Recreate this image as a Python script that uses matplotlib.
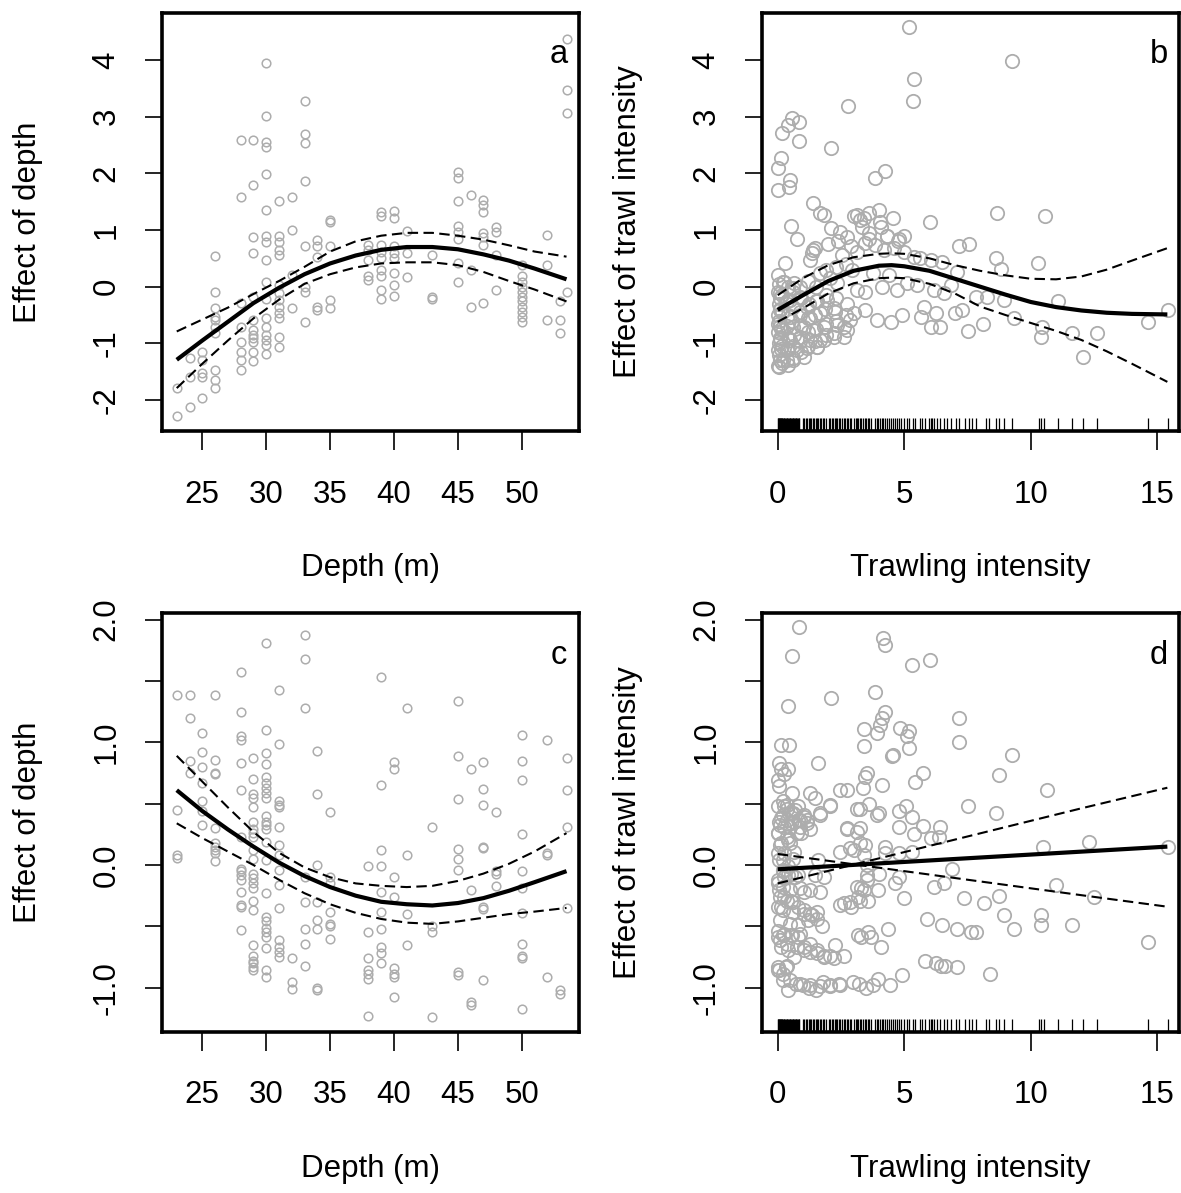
import matplotlib
matplotlib.use("Agg")
import matplotlib.pyplot as plt

# ---------------- data: panel a (depth effect, response 1) ----------------
depth_a_x = [23, 23,
             24, 24, 24,
             25, 25, 25, 25, 25,
             26, 26, 26, 26, 26, 26, 26, 26, 26, 26,
             28, 28, 28, 28, 28, 28, 28, 28,
             29, 29, 29, 29, 29, 29, 29, 29, 29, 29, 29, 29,
             30, 30, 30, 30, 30, 30, 30, 30, 30, 30, 30, 30, 30, 30, 30, 30, 30,
             31, 31, 31, 31, 31, 31, 31, 31, 31, 31, 31, 31, 31,
             32, 32, 32, 32,
             33, 33, 33, 33, 33, 33, 33, 33,
             34, 34, 34, 34, 34,
             35, 35, 35, 35, 35,
             38, 38, 38, 38, 38,
             39, 39, 39, 39, 39, 39, 39, 39, 39,
             40, 40, 40, 40, 40, 40, 40, 40,
             41, 41, 41,
             43, 43, 43,
             45, 45, 45, 45, 45, 45, 45, 45,
             46, 46, 46,
             47, 47, 47, 47, 47, 47, 47,
             48, 48, 48, 48,
             50, 50, 50, 50, 50, 50, 50, 50, 50, 50, 50,
             52, 52, 52,
             53, 53, 53,
             53.5, 53.5, 53.5, 53.5]
effect_a_y = [-1.79, -2.28,
              -1.26, -1.59, -2.12,
              -1.15, -1.29, -1.53, -1.59, -1.97,
              0.55, -0.09, -0.38, -0.53, -0.59, -0.71, -0.82, -1.47, -1.65, -1.79,
              2.59, 1.58, -0.29, -0.71, -0.97, -1.15, -1.29, -1.47,
              2.59, 1.79, 0.88, 0.59, -0.18, -0.59, -0.76, -0.85, -0.91, -0.97, -1.15, -1.32,
              3.95, 3.01, 2.56, 2.47, 1.98, 1.35, 0.89, 0.79, 0.47, 0.09, -0.21, -0.56, -0.71, -0.85, -0.94, -1.03, -1.18,
              1.51, 0.90, 0.78, 0.65, 0.56, 0.03, -0.12, -0.24, -0.35, -0.47, -0.56, -0.88, -1.06,
              1.58, 1.00, 0.21, -0.38,
              3.28, 2.69, 2.53, 1.87, 0.71, 0.00, -0.09, -0.62,
              0.82, 0.71, 0.53, -0.35, -0.41,
              1.18, 1.15, 0.71, -0.24, -0.38,
              0.74, 0.65, 0.47, 0.18, 0.12,
              1.31, 1.25, 0.74, 0.62, 0.50, 0.29, 0.18, -0.06, -0.21,
              1.34, 1.22, 0.71, 0.59, 0.50, 0.24, 0.03, -0.16,
              0.98, 0.59, 0.17,
              0.56, -0.18, -0.21,
              2.03, 1.91, 1.51, 1.07, 0.97, 0.85, 0.41, 0.09,
              1.61, 0.29, -0.35,
              1.53, 1.44, 1.32, 0.94, 0.88, 0.74, -0.29,
              1.06, 0.97, 0.56, -0.05,
              0.38, 0.18, 0.09, 0.00, -0.09, -0.18, -0.26, -0.35, -0.44, -0.53, -0.62,
              0.91, 0.38, -0.59,
              -0.26, -0.59, -0.82,
              4.37, 3.47, 3.07, -0.09]
fit_a_x = [23, 25, 27, 29, 31, 33, 35, 37, 39, 41, 43, 45, 47, 49, 51, 53.5]
fit_a = [-1.29, -0.95, -0.62, -0.29, -0.02, 0.22, 0.41, 0.55, 0.65, 0.70, 0.70, 0.66, 0.57, 0.46, 0.32, 0.13]
upper_a = [-0.79, -0.58, -0.37, -0.13, 0.10, 0.35, 0.62, 0.80, 0.90, 0.95, 0.95, 0.90, 0.83, 0.73, 0.62, 0.53]
lower_a = [-1.79, -1.36, -0.95, -0.56, -0.23, 0.05, 0.22, 0.34, 0.41, 0.43, 0.43, 0.38, 0.26, 0.10, -0.05, -0.26]

# ---------------- data: panel b (trawl effect, response 1) ----------------
trawl_b = [5.18, 9.27, 5.38, 5.33, 2.76,
           0.55, 0.86, 0.42, 0.16, 0.86, 2.11,
           0.12, 0.03, 0.50, 0.46, 0.03, 3.83, 4.25,
           1.39, 1.68, 1.81, 0.52, 0.76, 2.10, 2.47, 2.73,
           3.00, 3.13, 3.26, 3.39, 3.33, 3.59, 3.99, 4.08, 4.54, 4.05,
           6.00, 8.65, 10.55, 7.16, 7.55, 1.48,
           1.41, 1.34, 1.28, 0.29,
           2.53, 3.13, 3.46, 3.85, 4.19, 4.59, 4.98, 5.38, 5.64, 6.04, 6.50, 7.10,
           8.61, 8.81, 10.29,
           0.23, 0.63, 0.89, 1.68, 2.08, 2.34,
           3.13, 3.46, 4.12, 4.72, 5.11, 5.51, 6.17, 6.57, 6.83,
           7.82, 8.28, 8.94, 11.06, 15.42, 14.65, 9.34, 10.46, 10.40, 11.65, 12.60, 12.05,
           8.13, 7.53, 7.00, 7.27, 6.40, 6.07, 5.67, 6.27, 5.80,
           4.92, 4.46, 3.93, 3.46, 3.00, 2.87, 2.61, 2.21, 1.81, 1.54,
           0.02, 0.05, 0.03, 0.08, 0.04, 0.10, 0.02, 0.06, 0.09, 0.03, 0.07, 0.05, 0.12, 0.04, 0.08, 0.03,
           0.15, 0.18, 0.14, 0.17, 0.16,
           0.40, 0.38, 0.42, 0.36, 0.41, 0.39, 0.37,
           0.60, 0.62, 0.58, 0.63, 0.61, 0.59,
           0.90, 0.88, 0.92, 0.87, 0.91,
           1.20, 1.22, 1.18, 1.21, 1.19,
           1.50, 1.52, 1.48, 1.51, 1.49,
           1.90, 1.92, 1.88, 1.91, 1.89,
           2.30, 2.32, 2.28, 2.31,
           2.70, 2.72, 2.68,
           3.60, 4.30, 4.80, 2.95, 3.75, 4.40,
           0.22, 0.62, 0.09, 0.49, 0.88, 1.15, 1.54, 1.94, 2.21, 1.68, 1.28, 0.88, 0.49, 0.09,
           0.00, 0.22, 0.62, 1.02, 1.41, 1.81, 2.34, 2.73, 2.60, 2.21, 1.68, 1.28, 0.88, 0.49,
           0.09, 0.00, 0.35, 0.75, 1.15, 1.54, 0.22, 0.62, 1.02, 0.05, 0.42,
           2.90, 3.60, 4.30, 4.75, 2.40, 2.00, 5.00]
effect_b = [4.58, 3.99, 3.67, 3.28, 3.18,
            2.97, 2.91, 2.85, 2.71, 2.57, 2.45,
            2.27, 2.09, 1.88, 1.76, 1.71, 1.91, 2.04,
            1.48, 1.30, 1.27, 1.07, 0.85, 1.03, 0.97, 0.88,
            1.24, 1.27, 1.18, 1.21, 1.06, 1.30, 1.35, 1.06, 1.22, 1.15,
            1.15, 1.30, 1.25, 0.71, 0.75, 0.68,
            0.65, 0.59, 0.47, 0.41,
            0.56, 0.62, 0.77, 0.74, 0.65, 0.68, 0.62, 0.53, 0.50, 0.47, 0.44, 0.26,
            0.50, 0.32, 0.41,
            0.09, 0.06, 0.00, 0.24, 0.15, 0.06,
            -0.06, -0.09, 0.00, -0.06, 0.06, 0.03, -0.06, -0.12, 0.03,
            -0.18, -0.18, -0.24, -0.26, -0.41, -0.62, -0.56, -0.71, -0.89, -0.82, -0.81, -1.24,
            -0.65, -0.79, -0.47, -0.41, -0.71, -0.71, -0.53, -0.47, -0.35,
            -0.50, -0.62, -0.59, -0.41, -0.47, -0.59, -0.71, -0.82, -0.94, -1.06,
            0.20, 0.05, -0.10, -0.20, -0.30, -0.40, -0.50, -0.60, -0.70, -0.80, -0.90, -1.00, -1.10, -1.20, -1.30, -1.40,
            -0.15, -0.45, -0.75, -1.05, -1.35,
            0.00, -0.25, -0.50, -0.70, -0.90, -1.10, -1.30,
            -0.10, -0.35, -0.60, -0.85, -1.05, -1.25,
            -0.20, -0.45, -0.70, -0.95, -1.15,
            0.10, -0.30, -0.55, -0.80, -1.05,
            0.00, -0.25, -0.50, -0.75, -0.95,
            0.30, -0.15, -0.40, -0.65, -0.85,
            0.35, -0.20, -0.45, -0.60,
            0.40, -0.30, -0.50,
            0.95, 0.90, 0.85, 0.30, 0.25, 0.20,
            0.09, -0.03, -0.12, -0.24, -0.18, -0.35, -0.26, -0.24, -0.38, -0.47, -0.56, -0.50, -0.53, -0.41,
            -0.65, -0.76, -0.71, -0.71, -0.76, -0.71, -0.68, -0.76, -0.88, -0.88, -0.94, -0.94, -0.88, -0.94,
            -0.94, -1.12, -1.12, -1.12, -1.09, -1.06, -1.29, -1.29, -1.24, -1.41, -1.38,
            0.72, 0.85, 0.90, 0.80, 0.80, 0.75, 0.90]
fit_b_x = [0, 1, 2, 3, 4, 4.5, 5, 6, 7, 8, 9, 10, 11, 12, 13, 14, 15.4]
fit_b = [-0.41, -0.15, 0.10, 0.28, 0.37, 0.38, 0.36, 0.28, 0.14, 0.00, -0.14, -0.27, -0.36, -0.42, -0.46, -0.48, -0.49]
upper_b = [-0.15, 0.15, 0.38, 0.52, 0.58, 0.59, 0.58, 0.50, 0.38, 0.28, 0.20, 0.14, 0.13, 0.18, 0.30, 0.46, 0.68]
lower_b = [-0.62, -0.38, -0.12, 0.06, 0.15, 0.16, 0.15, 0.05, -0.12, -0.35, -0.50, -0.64, -0.78, -0.94, -1.14, -1.36, -1.68]

# rug of trawling intensity observations (same in panels b and d)
rug_trawl = [0.00, 0.02, 0.04, 0.06, 0.08, 0.10, 0.12, 0.14, 0.16, 0.18, 0.20, 0.23, 0.26, 0.29,
             0.32, 0.35, 0.38, 0.41, 0.44, 0.47, 0.50, 0.53, 0.56, 0.59, 0.62, 0.65, 0.68, 0.71,
             0.74, 0.77, 0.80, 0.83, 0.86,
             1.00, 1.05, 1.10, 1.16, 1.22, 1.27, 1.33, 1.38, 1.44, 1.50, 1.55, 1.61, 1.67, 1.72,
             1.78, 1.84, 1.90, 2.02, 2.08, 2.13, 2.19, 2.25, 2.30, 2.36, 2.42, 2.48, 2.53, 2.60,
             2.66, 2.72, 2.79, 2.85, 2.91, 3.02, 3.08, 3.13, 3.19, 3.25, 3.31, 3.37, 3.44, 3.50,
             3.56, 3.62, 3.68, 3.85, 3.92, 3.98, 4.05, 4.12, 4.18, 4.25, 4.33, 4.40, 4.48, 4.55,
             4.63, 4.72, 4.80, 4.88, 4.98, 5.10, 5.20, 5.33, 5.42,
             5.64, 5.71, 5.84, 5.97, 6.04, 6.10, 6.17, 6.30, 6.43, 6.56, 6.70, 6.83, 7.03, 7.16,
             7.42, 7.55, 7.69, 7.82, 8.22, 8.35, 8.61, 8.74, 8.94, 9.27, 10.33, 10.40, 10.53,
             11.06, 11.65, 12.05, 12.60, 14.65, 15.42]

# ---------------- data: panel c (depth effect, response 2) ----------------
depth_c_x = ([23] * 4 + [24] * 4 + [25] * 7 + [26] * 10 + [28] * 15 + [29] * 23 + [30] * 24 +
             [31] * 15 + [32] * 3 + [33] * 8 + [34] * 8 + [35] * 7 + [38] * 7 + [39] * 10 +
             [40] * 8 + [41] * 4 + [43] * 4 + [45] * 8 + [46] * 4 + [47] * 8 + [48] * 4 +
             [50] * 11 + [52] * 4 + [53] * 2 + [53.5] * 4)
effect_c_y = [1.39, 0.45, 0.08, 0.06,
              1.39, 1.20, 0.85, 0.75,
              1.08, 0.92, 0.80, 0.67, 0.52, 0.44, 0.33,
              1.39, 0.86, 0.75, 0.74, 0.30, 0.18, 0.15, 0.12, 0.10, 0.03,
              1.57, 1.25, 1.05, 1.02, 0.83, 0.61, 0.23, -0.03, -0.05, -0.08, -0.12, -0.22, -0.33, -0.34, -0.53,
              0.87, 0.70, 0.58, 0.55, 0.47, 0.35, 0.29, 0.26, 0.23, 0.12, 0.05, -0.07, -0.11, -0.15, -0.19,
              -0.29, -0.37, -0.65, -0.74, -0.78, -0.80, -0.83, -0.86,
              1.81, 1.10, 0.91, 0.82, 0.72, 0.67, 0.63, 0.59, 0.55, 0.40, 0.35, 0.33, 0.29, 0.19, 0.04,
              -0.23, -0.42, -0.46, -0.51, -0.55, -0.59, -0.68, -0.86, -0.91,
              1.43, 0.99, 0.52, 0.49, 0.47, 0.31, 0.16, 0.08, -0.04, -0.16, -0.35, -0.61, -0.67, -0.71, -0.75,
              -0.76, -0.95, -1.01,
              1.875, 1.68, 1.28, -0.10, -0.30, -0.52, -0.64, -0.82,
              0.93, 0.58, 0.00, -0.30, -0.45, -0.52, -1.00, -1.02,
              0.43, -0.10, -0.15, -0.38, -0.48, -0.50, -0.60,
              -0.01, -0.55, -0.76, -0.86, -0.89, -0.93, -1.23,
              1.53, 0.65, 0.12, -0.01, -0.22, -0.38, -0.52, -0.67, -0.72, -0.80,
              0.84, 0.78, -0.10, -0.26, -0.84, -0.89, -0.91, -1.08,
              1.28, 0.08, -0.40, -0.65,
              0.31, -0.50, -0.55, -1.24,
              1.34, 0.89, 0.54, 0.13, 0.05, -0.04, -0.87, -0.90,
              0.78, -0.20, -1.12, -1.14,
              0.84, 0.62, 0.49, 0.14, 0.15, -0.34, -0.36, -0.94,
              0.43, -0.05, -0.07, -0.17,
              1.06, 0.85, 0.69, 0.25, -0.05, -0.19, -0.39, -0.64, -0.74, -0.76, -1.17,
              1.02, 0.10, 0.08, -0.91,
              -1.02, -1.05,
              0.87, 0.61, 0.31, -0.35]
fit_c_x = [23, 25, 27, 29, 31, 33, 35, 37, 39, 41, 43, 45, 47, 49, 51, 53.5]
fit_c = [0.61, 0.44, 0.29, 0.15, 0.02, -0.09, -0.18, -0.25, -0.30, -0.32, -0.33, -0.31, -0.27, -0.21, -0.14, -0.05]
upper_c = [0.89, 0.68, 0.47, 0.27, 0.10, -0.02, -0.10, -0.15, -0.17, -0.18, -0.17, -0.13, -0.07, 0.01, 0.11, 0.26]
lower_c = [0.34, 0.22, 0.11, 0.00, -0.12, -0.23, -0.32, -0.39, -0.44, -0.47, -0.48, -0.46, -0.43, -0.40, -0.38, -0.35]

# ---------------- data: panel d (trawl effect, response 2) ----------------
trawl_d = [0.84, 0.55, 4.16, 4.25, 5.31, 6.00, 0.42, 2.10, 3.83,
           4.25, 4.12, 4.05, 3.92, 3.42, 3.39, 4.85, 5.18, 5.11, 5.18,
           7.16, 7.16, 9.27, 0.12, 0.46, 4.56, 4.52, 1.61,
           0.05, 0.12, 0.25, 0.42, 0.00, 0.05,
           5.76, 5.44, 3.53, 3.46, 3.36, 4.12, 8.74, 10.65,
           0.55, 1.28, 1.48, 2.47, 2.73,
           0.22, 0.36, 0.69, 1.02, 1.68, 2.08, 3.13, 3.59, 3.99, 3.92, 4.78, 5.05, 5.31, 7.51, 8.61,
           0.05, 0.36, 0.63, 0.89, 2.73, 3.26, 4.78, 5.76, 6.43,
           5.38, 6.04, 6.37, 10.50, 12.30, 15.42,
           2.47, 2.87, 3.46, 3.39, 4.25, 4.25, 4.78, 5.31, 6.89, 3.53, 3.53, 3.99, 4.65, 4.78,
           1.61, 1.48, 1.81, 1.28, 1.68, 1.02,
           6.17, 6.57, 4.98, 7.36, 8.15, 8.74, 10.98, 12.50,
           2.63, 2.90, 3.16, 3.56, 3.96, 3.29,
           5.91, 6.50, 7.10, 7.62, 7.82, 8.94, 9.34, 10.40, 10.40, 11.65,
           14.65,
           3.16, 3.56, 3.69, 4.35, 4.09, 3.29,
           5.84, 6.24, 6.44, 6.63, 7.10, 8.38,
           4.90, 4.43, 3.96, 3.76, 3.50, 3.23, 2.97, 2.44, 2.05, 1.78, 1.51, 1.25, 0.99, 0.72, 0.39, 0.20, 0.06, 0.33, 0.00,
           0.00, 0.26, 0.52, 0.79, 0.12, 0.39, 1.02, 1.28, 1.54, 1.81, 2.08, 2.27, 2.60, 0.66,
           1.54, 1.28, 1.02, 1.74, 1.21, 0.79, 0.52, 0.26, 0.12, 0.06, 0.00, 0.26, 0.52, 0.79, 0.19, 0.39, 0.06, 0.26, 0.66,
           0.00, 0.26, 0.52, 0.79, 0.12, 0.39, 0.92, 1.15, 1.28, 0.52, 0.79, 1.02, 0.26, 0.12,
           0.03, 0.35, 0.22, 0.62, 0.88, 1.15, 0.09, 0.49, 0.00, 0.35, 0.75, 0.09, 0.49, 0.00, 0.22,
           0.62, 0.22, 0.42, 0.69, 0.00, 0.22, 0.49, 0.88, 0.09, 0.35, 0.62, 0.00, 0.22, 0.62, 1.02,
           1.35, 1.54, 0.09, 0.49, 0.82, 0.00, 0.22, 0.55, 0.88, 0.09, 0.35, 0.75, 1.02, 1.28, 1.54,
           1.81, 2.21, 0.03, 0.35, 0.22, 0.49, 0.88, 1.28, 1.68, 2.08, 2.47,
           2.47, 2.87, 3.26, 3.39, 3.13, 3.53, 3.00, 3.26, 2.73, 3.13, 3.26, 2.08, 1.68]
effect_d = [1.94, 1.70, 1.85, 1.79, 1.63, 1.67, 1.30, 1.36, 1.41,
            1.25, 1.20, 1.14, 1.08, 1.11, 0.97, 1.12, 1.09, 1.05, 0.95,
            1.20, 1.00, 0.90, 0.98, 0.98, 0.90, 0.89, 0.83,
            0.83, 0.78, 0.74, 0.78, 0.69, 0.64,
            0.75, 0.68, 0.75, 0.72, 0.63, 0.65, 0.73, 0.61,
            0.59, 0.59, 0.55, 0.61, 0.61,
            0.52, 0.46, 0.45, 0.39, 0.42, 0.48, 0.46, 0.50, 0.42, 0.41, 0.44, 0.48, 0.39, 0.48, 0.42,
            0.35, 0.37, 0.35, 0.31, 0.30, 0.30, 0.31, 0.32, 0.31,
            0.25, 0.22, 0.23, 0.15, 0.19, 0.15,
            0.11, 0.14, 0.16, 0.08, 0.15, 0.10, 0.10, 0.11, -0.03, 0.00, -0.08, -0.07, -0.15, -0.10,
            0.04, -0.08, -0.10, -0.20, -0.22, -0.22,
            -0.18, -0.15, -0.27, -0.27, -0.31, -0.25, -0.16, -0.26,
            -0.31, -0.34, -0.26, -0.29, -0.20, -0.19,
            -0.44, -0.49, -0.52, -0.55, -0.55, -0.41, -0.52, -0.41, -0.49, -0.49,
            -0.63,
            -0.57, -0.55, -0.59, -0.52, -0.67, -0.59,
            -0.78, -0.80, -0.82, -0.82, -0.83, -0.89,
            -0.90, -0.98, -0.93, -0.98, -1.00, -0.97, -0.95, -0.97, -0.98, -0.95, -1.02, -1.00, -0.98, -0.97, -1.02, -0.94, -0.86, -0.83, -0.86,
            -0.59, -0.56, -0.57, -0.59, -0.67, -0.69, -0.67, -0.64, -0.69, -0.74, -0.74, -0.65, -0.74, -0.75,
            -0.38, -0.40, -0.37, -0.50, -0.45, -0.34, -0.29, -0.26, -0.34, -0.20, -0.12, -0.10, -0.07, -0.08, -0.04, -0.01, 0.04, 0.10, 0.11,
            0.26, 0.31, 0.34, 0.37, 0.18, 0.20, 0.26, 0.37, 0.29, 0.42, 0.48, 0.41, 0.48, 0.38,
            0.48, 0.49, 0.41, 0.42, 0.37, 0.34, 0.33, 0.31, 0.26, 0.23, 0.26, 0.16, 0.18, 0.10, 0.04,
            0.05, -0.05, -0.08, -0.10, -0.15, -0.18, -0.20, -0.19, -0.26, -0.29, -0.30, -0.34, -0.37, -0.38, -0.40,
            -0.41, -0.44, -0.45, -0.48, -0.49, -0.54, -0.57, -0.57, -0.56, -0.61, -0.64, -0.67, -0.69, -0.71, -0.72,
            -0.75, -0.76, -0.83, -0.82, -0.89, -0.94, -0.97, -0.98, -0.99, -0.99, -0.98,
            -0.33, -0.30, -0.29, -0.20, -0.18, -0.12, 0.12, 0.18, 0.29, 0.27, 0.46, 0.49, 0.41]
fit_d_x = [0, 3, 6, 9, 12, 15.4]
fit_d = [-0.035, 0.001, 0.037, 0.073, 0.109, 0.15]
band1_d = [0.09, 0.006, -0.078, -0.162, -0.246, -0.34]
band2_d = [-0.15, 0.003, 0.156, 0.309, 0.462, 0.63]

# ---------------- axis text ----------------
depth_ticks = [25, 30, 35, 40, 45, 50]
trawl_ticks = [0, 5, 10, 15]
top_yticks = [-2, -1, 0, 1, 2, 3, 4]
bottom_yticks = [-1.0, -0.5, 0.0, 0.5, 1.0, 1.5, 2.0]
bottom_ylabels = ["-1.0", "", "0.0", "", "1.0", "", "2.0"]

# ---------------- style ----------------
FONT = "Liberation Sans"
FS = 22.5
GREY = "#ADADAD"

W, H = 1181, 1193
fig = plt.figure(figsize=(W / 100, H / 100), dpi=100)


def rect(l, t, r, b):
    return [l / W, 1 - b / H, (r - l) / W, (b - t) / H]


def style(ax, xlim, ylim, xticks, yticks, ylabels, xlabel, ylabel, letter):
    ax.set_xlim(*xlim)
    ax.set_ylim(*ylim)
    ax.set_xticks(xticks)
    ax.set_xticklabels([str(t) for t in xticks], fontfamily=FONT, fontsize=FS)
    ax.set_yticks(yticks)
    ax.set_yticklabels(ylabels, fontfamily=FONT, fontsize=FS, rotation=90, va="center")
    ax.tick_params(axis="x", length=13.5, width=1.2, pad=21.5, direction="out")
    ax.tick_params(axis="y", length=12.5, width=1.2, pad=16.8, direction="out")
    for s in ax.spines.values():
        s.set_linewidth(2.6)
    ax.set_xlabel(xlabel, fontfamily=FONT, fontsize=FS)
    ax.set_ylabel(ylabel, fontfamily=FONT, fontsize=FS)
    ax.xaxis.set_label_coords(0.5, -0.328)
    ax.xaxis.label.set_va("center")
    ax.yaxis.set_label_coords(-0.323, 0.5)
    ax.yaxis.label.set_va("center")
    ax.text(0.951, 0.88, letter, transform=ax.transAxes, ha="center", va="baseline",
            fontfamily=FONT, fontsize=FS + 1)


def curves(ax, x, fit, up, lo):
    ax.plot(x, fit, color="black", lw=3.0, solid_capstyle="butt", zorder=4)
    for band in (up, lo):
        ax.plot(x, band, color="black", lw=1.5, linestyle=(0, (5, 2.6)), zorder=4)


# panel a
ax = fig.add_axes(rect(162.3, 13, 579.3, 431))
ax.plot(depth_a_x, effect_a_y, "o", mfc="none", mec=GREY, ms=6.2, mew=1.1, zorder=2)
curves(ax, fit_a_x, fit_a, upper_a, lower_a)
style(ax, (21.87, 54.5), (-2.547, 4.83), depth_ticks, top_yticks,
      [str(t) for t in top_yticks], "Depth (m)", "Effect of depth", "a")

# panel b
ax = fig.add_axes(rect(762.3, 13, 1179, 431))
ax.plot(trawl_b, effect_b, "o", mfc="none", mec=GREY, ms=9.6, mew=1.3, zorder=2)
curves(ax, fit_b_x, fit_b, upper_b, lower_b)
ax.vlines(rug_trawl, 0, 0.03, transform=ax.get_xaxis_transform(), color="black", lw=0.9, zorder=3)
style(ax, (-0.61, 15.86), (-2.547, 4.83), trawl_ticks, top_yticks,
      [str(t) for t in top_yticks], "Trawling intensity", "Effect of trawl intensity", "b")

# panel c
ax = fig.add_axes(rect(162.3, 613.3, 579.3, 1031.7))
ax.plot(depth_c_x, effect_c_y, "o", mfc="none", mec=GREY, ms=6.2, mew=1.1, zorder=2)
curves(ax, fit_c_x, fit_c, upper_c, lower_c)
style(ax, (21.87, 54.5), (-1.359, 2.052), depth_ticks, bottom_yticks,
      bottom_ylabels, "Depth (m)", "Effect of depth", "c")

# panel d
ax = fig.add_axes(rect(762.3, 613.3, 1179, 1031.7))
ax.plot(trawl_d, effect_d, "o", mfc="none", mec=GREY, ms=9.6, mew=1.3, zorder=2)
curves(ax, fit_d_x, fit_d, band1_d, band2_d)
ax.vlines(rug_trawl, 0, 0.03, transform=ax.get_xaxis_transform(), color="black", lw=0.9, zorder=3)
style(ax, (-0.61, 15.86), (-1.359, 2.052), trawl_ticks, bottom_yticks,
      bottom_ylabels, "Trawling intensity", "Effect of trawl intensity", "d")

fig.savefig("out.png", dpi=100)
